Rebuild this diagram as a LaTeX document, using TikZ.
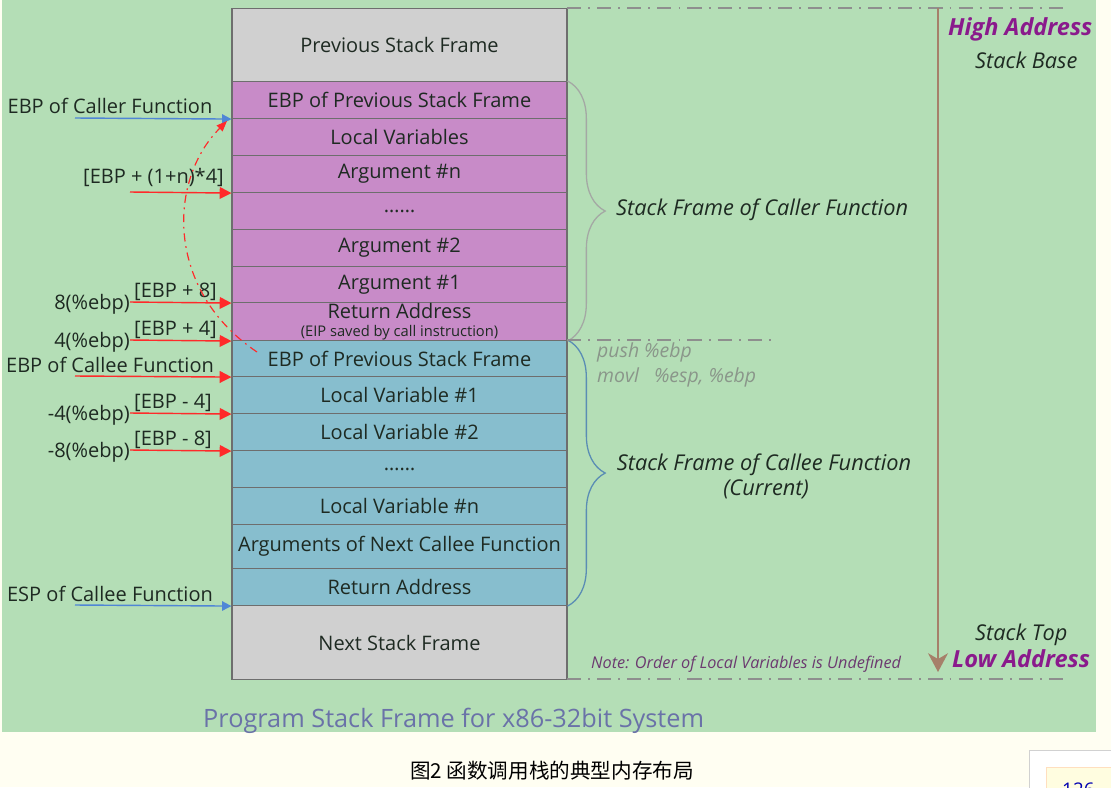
\documentclass[tikz,border=0pt]{standalone}
\usepackage{fontspec}
\setmainfont{Open Sans}
\newfontfamily\cjkfont{Noto Sans CJK SC}
\usetikzlibrary{arrows.meta,decorations.pathreplacing}
\definecolor{pagebg}{HTML}{FFFEF2}
\definecolor{greenbg}{HTML}{B4DEB6}
\definecolor{purpcell}{HTML}{C88BC8}
\definecolor{bluecell}{HTML}{87BECE}
\definecolor{graycell}{HTML}{D0D0D0}
\definecolor{cellline}{HTML}{6E6E6E}
\definecolor{darktext}{HTML}{1E2A22}
\definecolor{redarrow}{HTML}{FF2A2A}
\definecolor{bluearrow}{HTML}{4F86D6}
\definecolor{purptext}{HTML}{8A1A8C}
\definecolor{grayline}{HTML}{8E8E8E}
\definecolor{graybrace}{HTML}{A4A8A4}
\definecolor{bluebrace}{HTML}{5A8DB4}
\definecolor{asmtext}{HTML}{8A968A}
\definecolor{addrline}{HTML}{A6806A}
\definecolor{titletext}{HTML}{6A72A8}
\definecolor{notetext}{HTML}{6C3A70}
\newcommand\stackcell[5]{\node[cell, fill=#4, minimum height={(#3-#2)*0.85pt}, anchor=north] (#1) at (399.5,#2) {#5};}
\begin{document}
\begin{tikzpicture}[x=0.85pt,y=-0.85pt,
  cell/.style={draw=cellline, line width=0.9pt, minimum width=284.75pt, inner sep=0pt, text=darktext, font=\fontsize{17}{19}\selectfont, align=center},
  lbl/.style={text=darktext, font=\fontsize{17}{19}\selectfont, inner sep=0pt, anchor=base},
  redarr/.style={draw=redarrow, line width=1.2pt, -{Triangle[length=10pt,width=10pt]}},
  bluearr/.style={draw=bluearrow, line width=1.2pt, -{Triangle[length=8pt,width=8pt]}},
  dashdotline/.style={draw=grayline, line width=1pt, dash pattern=on 12pt off 6pt on 1.6pt off 6pt},
  sidetext/.style={text=darktext, font=\fontsize{18.5}{21}\selectfont\itshape, inner sep=0pt, anchor=base west},
  addr/.style={text=purptext, font=\fontsize{20}{22}\selectfont\bfseries\itshape, inner sep=0pt, anchor=base west},
  asm/.style={text=asmtext, font=\fontsize{16.5}{18}\selectfont\itshape, inner sep=0pt, anchor=base west}
]
\useasboundingbox (0,0) rectangle (1111,787);
\fill[pagebg] (0,0) rectangle (1111,787);
\fill[greenbg] (2,0) rectangle (1096,732);

% stack cells
\stackcell{prev}{8}{81}{graycell}{Previous Stack Frame}
\stackcell{ebpA}{81}{118}{purpcell}{EBP of Previous Stack Frame}
\stackcell{locals}{118}{155}{purpcell}{Local Variables}
\stackcell{argn}{155}{192}{purpcell}{Argument \#n}
\stackcell{dotsA}{192}{229}{purpcell}{……}
\stackcell{argtwo}{229}{266}{purpcell}{Argument \#2}
\stackcell{argone}{266}{302}{purpcell}{Argument \#1}
\stackcell{retA}{302}{340}{purpcell}{}
\node[lbl, anchor=base] (rettext) at (399.5,318) {Return Address};
\node[lbl, anchor=base, font=\fontsize{12.5}{14}\selectfont] (eiptext) at (399.5,336) {(EIP saved by call instruction)};
\stackcell{ebpB}{340}{376}{bluecell}{EBP of Previous Stack Frame}
\stackcell{lvone}{376}{413}{bluecell}{Local Variable \#1}
\stackcell{lvtwo}{413}{450}{bluecell}{Local Variable \#2}
\stackcell{dotsB}{450}{487}{bluecell}{……}
\stackcell{lvn}{487}{524}{bluecell}{Local Variable \#n}
\stackcell{nextargs}{524}{568}{bluecell}{Arguments of Next Callee Function}
\stackcell{retB}{568}{605}{bluecell}{Return Address}
\stackcell{next}{605}{679}{graycell}{Next Stack Frame}

% left labels
\node[lbl] (callerlbl) at (110,113) {EBP of Caller Function};
\node[lbl, anchor=base east] (argnlbl) at (224,183) {[EBP + (1+n)*4]};
\node[lbl, anchor=base east] (p8) at (130,309) {8(\%ebp)};
\node[lbl, anchor=base west] (b8) at (134,297) {[EBP + 8]};
\node[lbl, anchor=base east] (p4) at (130,347) {4(\%ebp)};
\node[lbl, anchor=base west] (b4) at (134,335) {[EBP + 4]};
\node[lbl] (calleelbl) at (110,372) {EBP of Callee Function};
\node[lbl, anchor=base east] (m4) at (130,420) {-4(\%ebp)};
\node[lbl, anchor=base west] (bm4) at (134,408) {[EBP - 4]};
\node[lbl, anchor=base east] (m8) at (130,457) {-8(\%ebp)};
\node[lbl, anchor=base west] (bm8) at (134,445) {[EBP - 8]};
\node[lbl] (esplbl) at (110,601) {ESP of Callee Function};

\coordinate (sCaller) at (75,118);
\coordinate (sArgn) at (130,192);
\coordinate (s8) at (130,302);
\coordinate (s4) at (130,340);
\coordinate (sCallee) at (75,376);
\coordinate (sm4) at (130,413);
\coordinate (sm8) at (130,450);
\coordinate (sEsp) at (75,605);

\draw[bluearr] (sCaller) -- (ebpA.south west);
\draw[redarr] (sArgn) -- (argn.south west);
\draw[redarr] (s8) -- (argone.south west);
\draw[redarr] (s4) -- (retA.south west);
\draw[redarr] (sCallee) -- (ebpB.south west);
\draw[redarr] (sm4) -- (lvone.south west);
\draw[redarr] (sm8) -- (lvtwo.south west);
\draw[bluearr] (sEsp) -- (retB.south west);

% dash-dot return curve
\coordinate (cStart) at (257,352);
\coordinate (cEnd) at (227,121);
\draw[redarrow, line width=1pt, dash pattern=on 7pt off 4pt on 1.5pt off 4pt, -{Triangle[length=9pt,width=7pt]}]
  (cStart) .. controls (165,290) and (168,180) .. (cEnd);

% braces
\draw[graybrace, line width=1.1pt, decorate, decoration={brace, amplitude=32pt}] (ebpA.north east) -- (retA.south east);
\draw[bluebrace, line width=1.1pt, decorate, decoration={brace, amplitude=32pt}] (ebpB.north east) -- (retB.south east);

\node[sidetext] (callerframe) at (616,215) {Stack Frame of Caller Function};
\node[sidetext, anchor=base] (calleeframe) at (764,470) {Stack Frame of Callee Function};
\node[sidetext, anchor=base] (current) at (766,495) {(Current)};
\node[asm] (push) at (597,357) {push \%ebp};
\node[asm] (movl) at (597,382) {movl\ \ \ \%esp, \%ebp};

% dash-dot boundaries
\coordinate (tl) at (567,8);
\coordinate (tr) at (1067,8);
\coordinate (ml) at (567,340);
\coordinate (mr) at (772,340);
\coordinate (bl) at (567,679);
\coordinate (br) at (1067,679);
\draw[dashdotline] (tl) -- (tr);
\draw[dashdotline] (ml) -- (mr);
\draw[dashdotline] (bl) -- (br);

% address arrow
\coordinate (atop) at (938,8);
\coordinate (abot) at (938,672);
\draw[addrline, line width=1pt, -{Stealth[length=16pt,width=17pt,inset=5pt]}] (atop) -- (abot);

\node[addr] (high) at (948,35) {High Address};
\node[sidetext] (base) at (975,68) {Stack Base};
\node[sidetext] (top) at (975,640) {Stack Top};
\node[addr] (low) at (952,667) {Low Address};
\node[text=notetext, font=\fontsize{13.8}{15}\selectfont\itshape, inner sep=0pt, anchor=base west] (note) at (591,668) {Note: Order of Local Variables is Undefined};

\node[text=titletext, font=\fontsize{21.5}{24}\selectfont, inner sep=0pt, anchor=base west] (title) at (203,727) {Program Stack Frame for x86-32bit System};

\node[text=black, font=\cjkfont\fontsize{17.5}{19}\selectfont, inner sep=0pt, anchor=base] (caption) at (552,778) {图2 函数调用栈的典型内存布局};

% corner widget
\begin{scope}
\clip (0,0) rectangle (1111,787);
\draw[draw=black!18, fill=white, line width=0.8pt] (1029,750) rectangle (1130,800);
\draw[draw=orange!25, fill=yellow!12, line width=0.8pt] (1046,767) rectangle (1130,800);
\node[text=blue!70!black, font=\fontsize{16}{18}\selectfont, inner sep=0pt, anchor=base west] (pagenum) at (1062,796) {126};
\end{scope}
\end{tikzpicture}
\end{document}
